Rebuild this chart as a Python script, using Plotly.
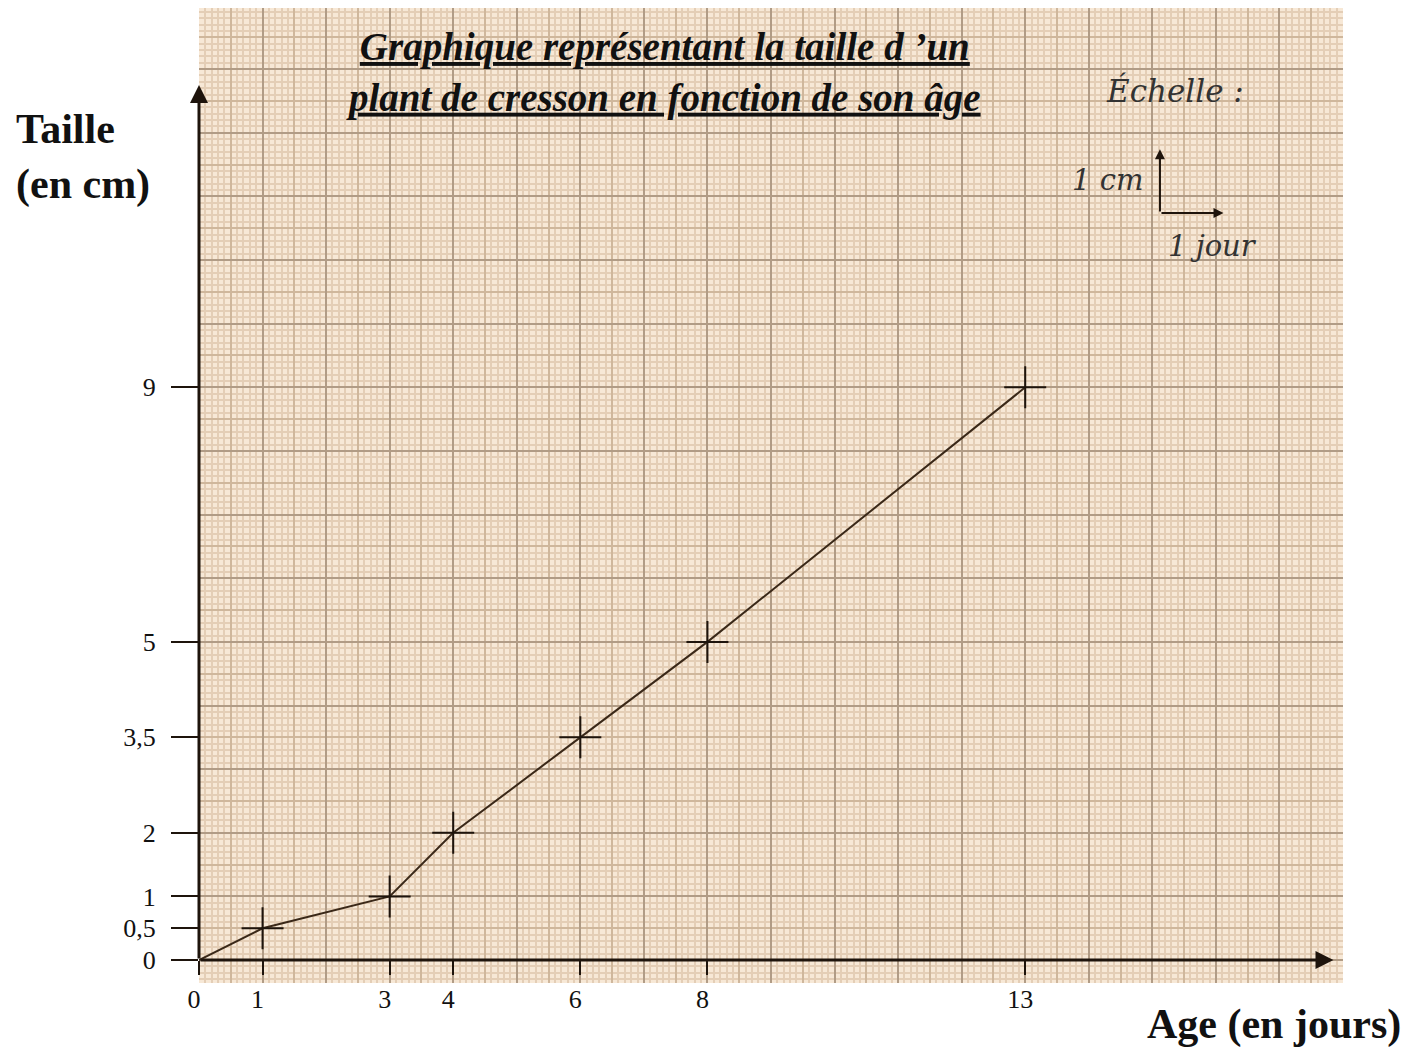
import plotly.graph_objects as go

# ---- data ----
ages = [0, 1, 3, 4, 6, 8, 13]            # jours
tailles = [0, 0.5, 1, 2, 3.5, 5, 9]      # cm
x_tick_vals = [0, 1, 3, 4, 6, 8, 13]
x_tick_text = ["0", "1", "3", "4", "6", "8", "13"]
y_tick_vals = [0, 0.5, 1, 2, 3.5, 5, 9]
y_tick_text = ["0", "0,5", "1", "2", "3,5", "5", "9"]

X_RANGE = [0, 18]
Y_RANGE = [-0.36, 14.96]

INK = "#1e140c"
SERIF = "Liberation Serif"

# page offset (body margin) compensation
OFF = 8
L, R, T, B = 199 - OFF, 1409 - (1343 - OFF), 0, 1049 - (983 - OFF)
PW = 1409 - L - R
PH = 1049 - T - B

fig = go.Figure()

# invisible traces so grid subplots are rendered
fig.add_trace(go.Scatter(x=[None], y=[None], xaxis="x", yaxis="y", showlegend=False, hoverinfo="skip"))
fig.add_trace(go.Scatter(x=[None], y=[None], xaxis="x2", yaxis="y2", showlegend=False, hoverinfo="skip"))

# data line
fig.add_trace(go.Scatter(
    x=ages, y=tailles, xaxis="x3", yaxis="y3", mode="lines",
    line=dict(color="#3a2818", width=2), showlegend=False, cliponaxis=False))
# crosses (origin has none)
fig.add_trace(go.Scatter(
    x=ages[1:], y=tailles[1:], xaxis="x3", yaxis="y3", mode="markers",
    marker=dict(symbol="cross-thin", size=30, line=dict(width=2, color=INK)),
    showlegend=False, cliponaxis=False))

x_pos = (0 - Y_RANGE[0]) / (Y_RANGE[1] - Y_RANGE[0])

fig.update_layout(
    width=1409, height=1049,
    margin=dict(l=L, r=R, t=T, b=B),
    paper_bgcolor="white",
    plot_bgcolor="#f7e8d6",
    showlegend=False,
    # fine (1 mm) and half-centimetre grid
    xaxis=dict(range=X_RANGE, dtick=0.5, tick0=0, showgrid=True, gridcolor="#cfb79c", gridwidth=1.6,
               minor=dict(dtick=0.1, showgrid=True, gridcolor="#e4ceb6", gridwidth=1.5),
               showticklabels=False, ticks="", zeroline=False, showline=False),
    yaxis=dict(range=Y_RANGE, dtick=0.5, tick0=0, showgrid=True, gridcolor="#cfb79c", gridwidth=1.6,
               minor=dict(dtick=0.1, showgrid=True, gridcolor="#e4ceb6", gridwidth=1.5),
               showticklabels=False, ticks="", zeroline=False, showline=False),
    # centimetre grid
    xaxis2=dict(range=X_RANGE, overlaying="x", dtick=1, tick0=0, showgrid=True, gridcolor="#b19c86", gridwidth=2,
                showticklabels=False, ticks="", zeroline=False, showline=False),
    yaxis2=dict(range=Y_RANGE, overlaying="y", dtick=1, tick0=0, showgrid=True, gridcolor="#b19c86", gridwidth=2,
                showticklabels=False, ticks="", zeroline=False, showline=False),
    # labelled axes
    xaxis3=dict(range=X_RANGE, overlaying="x", anchor="free", position=x_pos,
                tickmode="array", tickvals=x_tick_vals, ticktext=x_tick_text,
                ticks="outside", ticklen=14, tickwidth=2, tickcolor=INK,
                ticklabelstandoff=2, ticklabelshift=-5,
                tickfont=dict(family=SERIF, size=26, color="#111"),
                showgrid=False, zeroline=False, showline=False),
    yaxis3=dict(range=Y_RANGE, overlaying="y", anchor="x3", side="left",
                tickmode="array", tickvals=y_tick_vals, ticktext=y_tick_text,
                ticks="outside", ticklen=27, tickwidth=2, tickcolor=INK,
                ticklabelstandoff=10,
                tickfont=dict(family=SERIF, size=26, color="#111"),
                showgrid=False, zeroline=False, showline=False),
)

annotations = []
# axes with arrows
annotations.append(dict(x=17.85, y=0, ax=0, ay=0, xref="x3", yref="y3", axref="x3", ayref="y3",
                        text="", showarrow=True, arrowhead=2, arrowsize=1.2, arrowwidth=3, arrowcolor=INK))
annotations.append(dict(x=0, y=13.75, ax=0, ay=0, xref="x3", yref="y3", axref="x3", ayref="y3",
                        text="", showarrow=True, arrowhead=2, arrowsize=1.2, arrowwidth=3, arrowcolor=INK))
# scale indicator (1 unit each way)
cx, cy = 15.12, 11.74
annotations.append(dict(x=cx, y=cy + 1, ax=cx, ay=cy, xref="x3", yref="y3", axref="x3", ayref="y3",
                        text="", showarrow=True, arrowhead=2, arrowsize=1, arrowwidth=2, arrowcolor=INK))
annotations.append(dict(x=cx + 1, y=cy, ax=cx, ay=cy, xref="x3", yref="y3", axref="x3", ayref="y3",
                        text="", showarrow=True, arrowhead=2, arrowsize=1, arrowwidth=2, arrowcolor=INK))


def px_x(px):
    return (px - OFF - L) / PW


def px_y(py):
    return (T + PH - (py - OFF)) / PH


def label(text, px, py, size, family=SERIF, color="#111", xanchor="center", align="center"):
    annotations.append(dict(x=px_x(px), y=px_y(py), xref="paper", yref="paper", showarrow=False,
                            xanchor=xanchor, yanchor="middle", align=align,
                            text=text, font=dict(family=family, size=size, color=color)))


# title
label("<b><i><u>Graphique représentant la taille d ’un</u></i></b><br>"
      "<b><i><u>plant de cresson en fonction de son âge</u></i></b>", 663, 72, 39)
# scale texts
label("<i>Échelle :</i>", 1175, 90, 31, family="DejaVu Serif", color="#333")
label("<i>1 cm</i>", 1107, 180, 29, family="DejaVu Serif", color="#333")
label("<i>1 jour</i>", 1212, 246, 29, family="DejaVu Serif", color="#333")
# axis titles
label("<b>Taille</b><br><b>(en cm)</b>", 14, 157, 42, xanchor="left", align="left")
label("<b>Age (en jours)</b>", 1403, 1025, 42, xanchor="right")

fig.update_layout(annotations=annotations)

fig.write_html("out.html")
